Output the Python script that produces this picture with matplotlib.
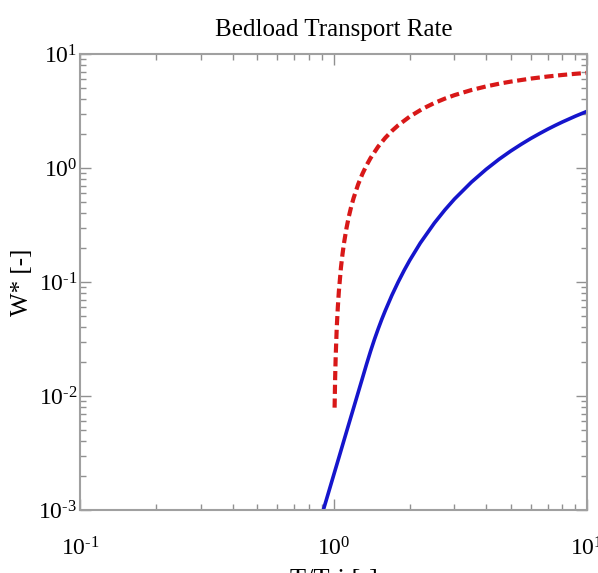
import matplotlib
matplotlib.use("Agg")
import matplotlib.pyplot as plt
from matplotlib.ticker import LogLocator, NullFormatter

plt.rcParams['font.family'] = ['Liberation Serif', 'DejaVu Serif']
plt.rcParams['mathtext.fontset'] = 'custom'
plt.rcParams['mathtext.rm'] = 'Liberation Serif'
plt.rcParams['mathtext.it'] = 'Liberation Serif:italic'
plt.rcParams['mathtext.default'] = 'rm'

# Red dashed curve
red_x = [1.01, 1.015, 1.02, 1.03, 1.04, 1.05, 1.07, 1.085, 1.1, 1.125, 1.15,
         1.175, 1.2, 1.25, 1.3, 1.35, 1.4, 1.5, 1.6, 1.7, 1.8, 2.0, 2.25,
         2.5, 2.75, 3.0, 3.5, 4.0, 4.5, 5.0, 6.0, 7.0, 8.0, 9.0, 10.0]
red_y = [0.0079, 0.0144, 0.022, 0.040, 0.060, 0.083, 0.134, 0.175, 0.219,
         0.296, 0.377, 0.460, 0.544, 0.716, 0.887, 1.056, 1.222, 1.54,
         1.837, 2.114, 2.370, 2.828, 3.313, 3.718, 4.061, 4.355, 4.830,
         5.196, 5.487, 5.724, 6.086, 6.348, 6.548, 6.705, 6.83]

# Blue solid curve
blue_x = [0.91, 0.95, 1.0, 1.05, 1.1, 1.15, 1.2, 1.25, 1.3, 1.35, 1.4, 1.45,
          1.5, 1.55, 1.6, 1.7, 1.8, 1.9, 2.0, 2.2, 2.5, 2.75, 3.0, 3.5, 4.0,
          4.5, 5.0, 5.5, 6.0, 6.5, 7.0, 7.5, 8.0, 9.0, 10.0]
blue_y = [0.000986, 0.00136, 0.002, 0.00288, 0.00409, 0.00571, 0.00785,
          0.01066, 0.0143, 0.0190, 0.0247, 0.0313, 0.0387, 0.0470, 0.0560,
          0.0766, 0.1001, 0.1265, 0.1554, 0.2198, 0.329, 0.4287, 0.534,
          0.7517, 0.973, 1.194, 1.408, 1.614, 1.815, 2.005, 2.19, 2.366,
          2.534, 2.849, 3.14]

xticks = [0.1, 1, 10]
xticklabels = [r'$10^{\text{-}1}$', r'$10^{0}$', r'$10^{1}$']
yticks = [1e-3, 1e-2, 1e-1, 1, 10]
yticklabels = [r'$10^{\text{-}3}$', r'$10^{\text{-}2}$', r'$10^{\text{-}1}$',
               r'$10^{0}$', r'$10^{1}$']

fig = plt.figure(figsize=(5.98, 5.73), dpi=100)
ax = fig.add_axes([80/598, 1 - 510/573, (587-80)/598, (510-54)/573])

ax.plot(blue_x, blue_y, color='#1515cc', lw=2.6, solid_capstyle='butt')
ax.plot(red_x, red_y, color='#d81818', lw=3.0, linestyle=(0, (2.2, 1.1)))

ax.set_xscale('log')
ax.set_yscale('log')
ax.set_xlim(0.1, 10)
ax.set_ylim(1e-3, 10)

ax.set_xticks(xticks)
ax.set_xticklabels(xticklabels, fontsize=17)
ax.set_yticks(yticks)
ax.set_yticklabels(yticklabels, fontsize=17)
ax.xaxis.set_minor_locator(LogLocator(base=10, subs=range(2, 10)))
ax.yaxis.set_minor_locator(LogLocator(base=10, subs=range(2, 10)))
ax.xaxis.set_minor_formatter(NullFormatter())
ax.yaxis.set_minor_formatter(NullFormatter())

tc = '#909090'
ax.tick_params(which='both', direction='in', top=True, right=True, color=tc)
ax.tick_params(which='major', length=8, width=1.0)
ax.tick_params(axis='x', which='major', pad=20)
ax.tick_params(axis='y', which='major', pad=2)
ax.tick_params(which='minor', length=4, width=1.0)
for s in ax.spines.values():
    s.set_color('#a0a0a0')
    s.set_linewidth(1.5)

ax.set_title('Bedload Transport Rate', fontsize=18, pad=13)
ax.set_xlabel('T/Tri [-]', fontsize=19, labelpad=6)
ax.set_ylabel('W* [-]', fontsize=18)
ax.yaxis.set_label_coords(-0.093, 0.5)

fig.savefig('out.png', dpi=100)
